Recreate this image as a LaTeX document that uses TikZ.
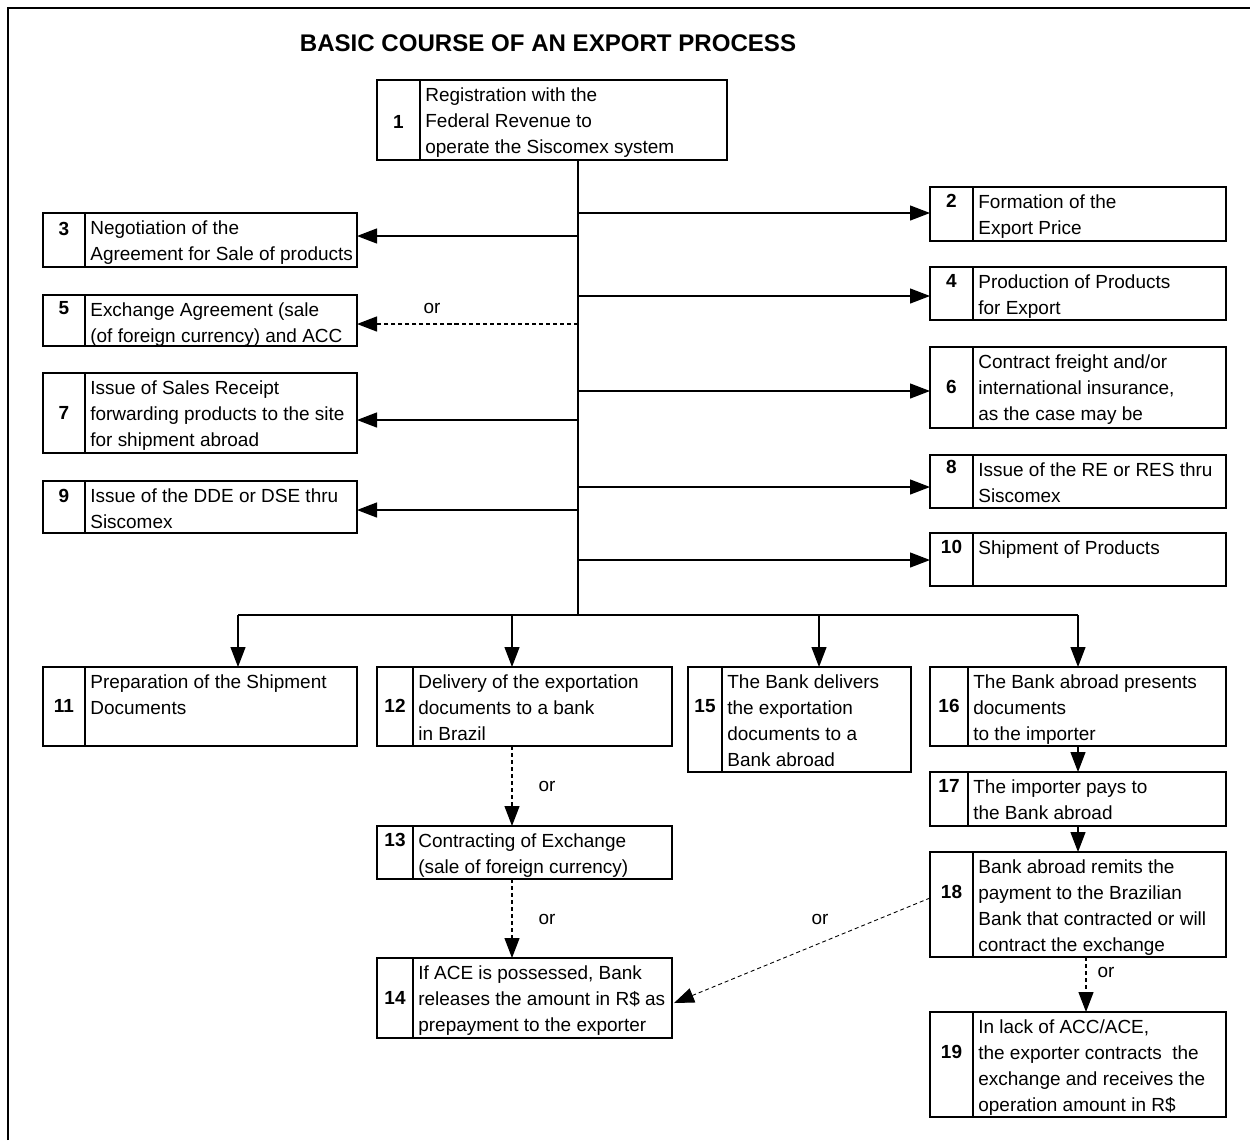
\documentclass[tikz,border=0pt]{standalone}
\usepackage{fontspec}
\setmainfont{Liberation Sans}
\usetikzlibrary{arrows.meta,calc}
\newcommand\mybox[9]{%
 \node[boxst, minimum width={(#4-#2)*0.02cm}, minimum height={(#5-#3)*0.02cm}] (#1) at (#2,#3) {};
 \draw[divst] (#6,#3) -- (#6,#5);
 \node[numst] (#1n) at ({(#2+#6)/2},#7) {#8};
 \node[txtst] (#1t) at (#6+5,#3+7) {#9};
}
\begin{document}
\begin{tikzpicture}[x=0.02cm,y=-0.02cm,
 boxst/.style={draw, line width=1.5pt, inner sep=0pt, outer sep=0pt, anchor=north west},
 divst/.style={line width=0.9pt},
 numst/.style={font=\fontsize{10.8}{13}\selectfont\bfseries, inner sep=0pt},
 txtst/.style={font=\fontsize{10.8}{14.8}\selectfont, align=left, anchor=north west, inner sep=0pt},
 conn/.style={line width=0.7pt},
 arr/.style={conn, -{Triangle[length=0.4cm,width=0.3cm]}},
 darr/.style={arr, dash pattern=on 2.3pt off 1.7pt},
 orst/.style={font=\fontsize{10.8}{13}\selectfont, inner sep=0pt}]
\useasboundingbox (0,0) rectangle (1250,1140);
\draw[line width=1.6pt] (8,1140) -- (8,8) -- (1250,8);
\node[font=\fontsize{13.7}{16}\selectfont\bfseries] (title) at (548,43) {BASIC COURSE OF AN EXPORT PROCESS};

\mybox{b1}{377}{80}{727}{160}{420}{122}{1}{Registration with the\\Federal Revenue to\\operate the Siscomex system}
\mybox{b2}{930}{187}{1226}{241}{973}{201}{2}{Formation of the\\Export Price}
\mybox{b3}{43}{213}{357}{267}{85}{229}{3}{Negotiation of the\\Agreement for Sale of products}
\mybox{b4}{930}{267}{1226}{320}{973}{281}{4}{Production of Products\\for Export}
\mybox{b5}{43}{295}{357}{346}{85}{308}{5}{Exchange Agreement (sale\\(of foreign currency) and ACC}
\mybox{b6}{930}{347}{1226}{428}{973}{387}{6}{Contract freight and/or\\international insurance,\\as the case may be}
\mybox{b7}{43}{373}{357}{453}{85}{413}{7}{Issue of Sales Receipt\\forwarding products to the site\\for shipment abroad}
\mybox{b8}{930}{455}{1226}{508}{973}{467}{8}{Issue of the RE or RES thru\\Siscomex}
\mybox{b9}{43}{481}{357}{533}{85}{496}{9}{Issue of the DDE or DSE thru\\Siscomex}
\mybox{b10}{930}{533}{1226}{586}{973}{547}{10}{Shipment of Products}
\mybox{b11}{43}{667}{357}{746}{85}{706}{11}{Preparation of the Shipment\\Documents}
\mybox{b12}{377}{667}{672}{746}{413}{706}{12}{Delivery of the exportation\\documents to a bank\\in Brazil}
\mybox{b13}{377}{826}{672}{879}{413}{840}{13}{Contracting of Exchange\\(sale of foreign currency)}
\mybox{b14}{377}{958}{672}{1038}{413}{998}{14}{If ACE is possessed, Bank\\releases the amount in R\$ as\\prepayment to the exporter}
\mybox{b15}{688}{667}{911}{772}{722}{706}{15}{The Bank delivers\\the exportation\\documents to a\\Bank abroad}
\mybox{b16}{930}{667}{1226}{746}{968}{706}{16}{The Bank abroad presents\\documents\\to the importer}
\mybox{b17}{930}{772}{1226}{826}{968}{786}{17}{The importer pays to\\the Bank abroad}
\mybox{b18}{930}{852}{1226}{957}{973}{892}{18}{Bank abroad remits the\\payment to the Brazilian\\Bank that contracted or will\\contract the exchange}
\mybox{b19}{930}{1012}{1226}{1117}{973}{1052}{19}{In lack of ACC/ACE,\\the exporter contracts\ \ the\\exchange and receives the\\operation amount in R\$}

% trunk
\coordinate (trunk) at (578,615);
\draw[conn] (b1.south -| trunk) -- (trunk);
\coordinate (j2) at (578,213);
\coordinate (j3) at (578,236);
\coordinate (j4) at (578,296);
\coordinate (j5) at (578,324);
\coordinate (j6) at (578,391);
\coordinate (j7) at (578,420);
\coordinate (j8) at (578,487);
\coordinate (j9) at (578,510);
\coordinate (j10) at (578,560);
\draw[arr] (j2) -- (j2 -| b2.west);
\draw[arr] (j3) -- (j3 -| b3.east);
\draw[arr] (j4) -- (j4 -| b4.west);
\draw[darr] (j5) -- (j5 -| b5.east);
\draw[arr] (j6) -- (j6 -| b6.west);
\draw[arr] (j7) -- (j7 -| b7.east);
\draw[arr] (j8) -- (j8 -| b8.west);
\draw[arr] (j9) -- (j9 -| b9.east);
\draw[arr] (j10) -- (j10 -| b10.west);
% bus
\coordinate (busL) at (238,615);
\coordinate (j12) at (512,615);
\coordinate (j15) at (819,615);
\coordinate (busR) at (1078,615);
\draw[conn] (busL) -- (busR);
\draw[arr] (busL) -- (busL |- b11.north);
\draw[arr] (j12) -- (j12 |- b12.north);
\draw[arr] (j15) -- (j15 |- b15.north);
\draw[arr] (busR) -- (busR |- b16.north);
\draw[arr] (busR |- b16.south) -- (busR |- b17.north);
\draw[arr] (busR |- b17.south) -- (busR |- b18.north);
\coordinate (k18) at (1086,957);
\draw[darr] (k18) -- (k18 |- b19.north);
\draw[darr] (j12 |- b12.south) -- (j12 |- b13.north);
\draw[darr] (j12 |- b13.south) -- (j12 |- b14.north);
\coordinate (d18) at (930,898);
\coordinate (d14) at (674,1003);
\draw[darr, line width=0.5pt] (d18) -- (d14);
% or labels
\node[orst] (or5) at (432,308) {or};
\node[orst] (or12) at (547,786) {or};
\node[orst] (or13) at (547,919) {or};
\node[orst] (or18) at (820,919) {or};
\node[orst] (or19) at (1106,972) {or};
\end{tikzpicture}
\end{document}
